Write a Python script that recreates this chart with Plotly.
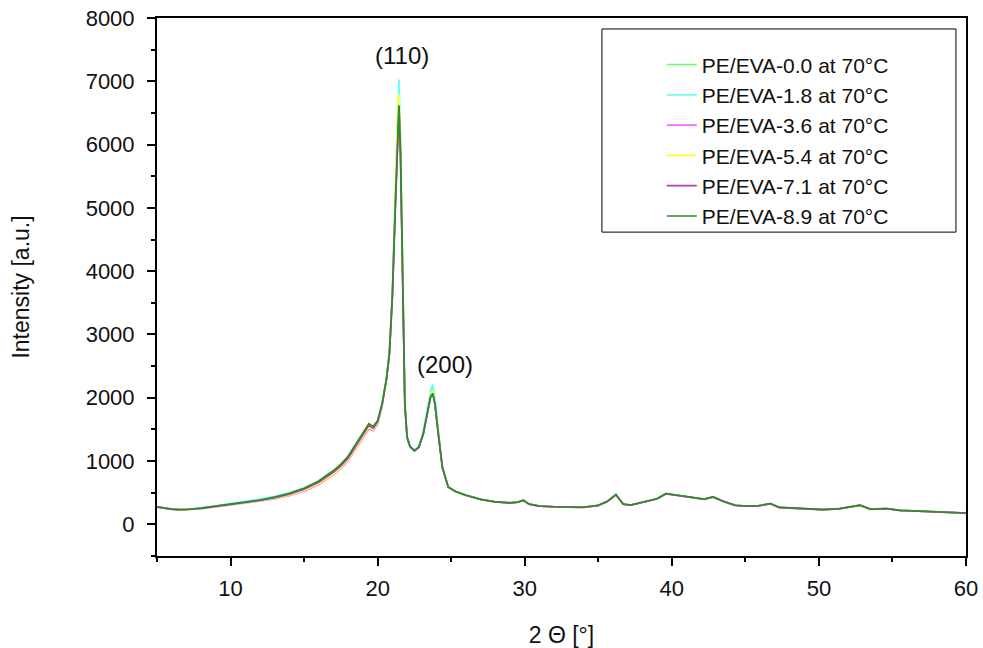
import plotly.graph_objects as go

two_theta = [5.0, 5.5, 6.0, 6.5, 7.0, 8.0, 9.0, 10.0, 11.0, 12.0, 13.0, 14.0, 15.0, 16.0, 17.0, 17.5,
             18.0, 18.5, 19.0, 19.4, 19.7, 20.0, 20.3, 20.6, 20.8, 21.0, 21.2, 21.35, 21.45, 21.55,
             21.7, 21.85, 22.0, 22.2, 22.5, 22.8, 23.1, 23.4, 23.6, 23.75, 23.9, 24.1, 24.4, 24.8,
             25.3, 26.0, 27.0, 28.0, 29.0, 29.5, 29.9, 30.3, 31.0, 32.0, 33.0, 34.0, 35.0, 35.6,
             36.2, 36.7, 37.2, 38.0, 39.0, 39.6, 40.3, 40.8, 41.4, 42.2, 42.8, 43.5, 44.3, 45.0,
             45.8, 46.7, 47.3, 48.2, 49.2, 50.3, 51.4, 52.2, 52.8, 53.5, 54.6, 55.5, 56.5, 57.3,
             58.2, 59.0, 60.0]

pe_eva_0_0 = [274, 254, 239, 233, 236, 256, 286, 316, 350, 383, 426, 483, 560, 670, 830, 930, 1055, 1230,
              1420, 1560, 1520, 1620, 1890, 2300, 2720, 3650, 5100, 6350, 6720, 6000, 4150, 1920, 1390,
              1235, 1170, 1228, 1450, 1840, 2080, 2140, 1960, 1510, 910, 592, 521, 461, 396, 356, 341,
              351, 382, 321, 290, 279, 273, 270, 301, 361, 472, 321, 305, 346, 406, 487, 461, 441, 424,
              399, 434, 365, 303, 290, 290, 329, 269, 258, 249, 234, 249, 276, 303, 241, 250, 222, 212,
              206, 195, 188, 179]
pe_eva_1_8 = [272, 254, 240, 234, 238, 260, 292, 325, 362, 398, 442, 500, 578, 690, 850, 948, 1075, 1250,
              1440, 1575, 1540, 1640, 1910, 2320, 2750, 3700, 5200, 6500, 7030, 6200, 4250, 1950, 1400,
              1240, 1175, 1235, 1460, 1860, 2120, 2210, 2000, 1540, 920, 595, 522, 462, 397, 357, 342,
              352, 384, 322, 291, 279, 274, 271, 302, 362, 475, 322, 306, 347, 408, 490, 463, 442, 425,
              400, 436, 366, 304, 291, 291, 331, 270, 259, 250, 235, 250, 277, 305, 242, 251, 223, 213,
              207, 196, 189, 180]
pe_eva_3_6 = [273, 253, 238, 231, 233, 250, 278, 305, 335, 365, 402, 452, 525, 630, 785, 885, 1005, 1180,
              1370, 1510, 1480, 1580, 1860, 2290, 2700, 3620, 5050, 6250, 6650, 5950, 4080, 1880, 1370,
              1222, 1160, 1215, 1420, 1790, 2010, 2080, 1890, 1470, 895, 587, 518, 457, 393, 353, 338,
              347, 377, 318, 287, 275, 270, 267, 297, 357, 466, 318, 302, 342, 402, 480, 456, 437, 419,
              394, 429, 360, 298, 286, 287, 324, 264, 254, 245, 229, 244, 272, 298, 236, 246, 219, 209,
              203, 192, 185, 176]
pe_eva_5_4 = [274, 254, 239, 232, 234, 252, 281, 308, 340, 370, 408, 460, 535, 640, 795, 895, 1020, 1195,
              1390, 1530, 1495, 1600, 1880, 2310, 2730, 3680, 5150, 6400, 6800, 6050, 4150, 1900, 1380,
              1228, 1165, 1222, 1440, 1830, 2060, 2110, 1930, 1500, 905, 590, 520, 459, 395, 355, 340,
              349, 380, 320, 289, 277, 272, 269, 299, 359, 468, 320, 304, 344, 404, 483, 458, 439, 421,
              397, 431, 362, 300, 288, 289, 326, 266, 256, 247, 231, 246, 274, 300, 238, 248, 220, 210,
              204, 194, 186, 177]
pe_eva_7_1 = [275, 255, 240, 233, 235, 254, 284, 313, 346, 380, 420, 478, 555, 665, 825, 925, 1050, 1225,
              1420, 1560, 1520, 1620, 1890, 2290, 2690, 3590, 5000, 6200, 6600, 5880, 4080, 1890, 1375,
              1228, 1162, 1218, 1425, 1795, 2010, 2060, 1890, 1475, 898, 588, 519, 459, 394, 354, 339,
              349, 379, 319, 289, 277, 272, 269, 299, 359, 468, 319, 304, 344, 404, 484, 459, 439, 422,
              397, 432, 363, 301, 289, 289, 327, 267, 257, 248, 232, 247, 274, 301, 239, 249, 221, 211,
              205, 194, 187, 178]
pe_eva_8_9 = [275, 255, 240, 233, 235, 255, 285, 315, 350, 385, 430, 490, 570, 685, 850, 950, 1080, 1260,
              1450, 1590, 1545, 1640, 1900, 2300, 2700, 3600, 5000, 6200, 6620, 5900, 4100, 1900, 1380,
              1230, 1165, 1220, 1430, 1800, 2020, 2070, 1900, 1480, 900, 590, 520, 460, 395, 355, 340,
              350, 380, 320, 290, 278, 273, 270, 300, 360, 470, 320, 305, 345, 405, 485, 460, 440, 423,
              398, 433, 364, 302, 290, 290, 328, 268, 258, 249, 233, 248, 275, 302, 240, 250, 222, 212,
              206, 195, 188, 179]

series_names = ["PE/EVA-0.0 at 70°C", "PE/EVA-1.8 at 70°C", "PE/EVA-3.6 at 70°C",
                "PE/EVA-5.4 at 70°C", "PE/EVA-7.1 at 70°C", "PE/EVA-8.9 at 70°C"]
series_values = [pe_eva_0_0, pe_eva_1_8, pe_eva_3_6, pe_eva_5_4, pe_eva_7_1, pe_eva_8_9]
series_colors = ["#66ff66", "#66ffff", "#ff66ff", "#ffff33", "#b040b0", "#2e8b2e"]

peak_labels = ["(110)", "(200)"]
peak_label_x = [21.68, 24.56]
peak_label_y = [7400, 2520]

FONT = "Liberation Sans, Arial, sans-serif"
TXT = "#111111"

fig = go.Figure()
for name, vals, col in zip(series_names, series_values, series_colors):
    fig.add_trace(go.Scatter(x=two_theta, y=vals, mode="lines", name=name,
                             line=dict(color=col, width=1.7)))

for t, lx, ly in zip(peak_labels, peak_label_x, peak_label_y):
    fig.add_annotation(x=lx, y=ly, text=t, showarrow=False,
                       font=dict(family=FONT, size=24, color=TXT))

axis_common = dict(showline=True, linecolor="black", linewidth=2, mirror=True,
                   ticks="outside", ticklen=8, tickwidth=2, tickcolor="black",
                   showgrid=False, zeroline=False, automargin=False,
                   ticklabeloverflow="allow",
                   tickfont=dict(family=FONT, size=22, color=TXT))

fig.update_xaxes(range=[5, 60], dtick=10, tick0=0, ticklabelstandoff=4,
                 minor=dict(dtick=5, ticks="outside", ticklen=4, tickwidth=2, tickcolor="black"),
                 title=dict(text="2 Θ [°]", font=dict(family=FONT, size=23, color=TXT), standoff=26),
                 **axis_common)
fig.update_yaxes(range=[-500, 8000], dtick=1000, tick0=0, ticklabelstandoff=8,
                 minor=dict(dtick=500, ticks="outside", ticklen=4, tickwidth=2, tickcolor="black"),
                 title=dict(text="Intensity [a.u.]", font=dict(family=FONT, size=23, color=TXT), standoff=50),
                 **axis_common)

# legend frame (px 602..956 x 29..232 within plot area 157..966 x 18..556)
fig.add_shape(type="rect", xref="paper", yref="paper",
              x0=0.550, x1=0.9876, y0=0.602, y1=0.9796,
              line=dict(color="black", width=1), fillcolor="white", layer="above")

fig.update_layout(
    width=983, height=648,
    margin=dict(l=157, r=17, t=18, b=92),
    paper_bgcolor="white", plot_bgcolor="white",
    legend=dict(x=0.556, y=0.951, xanchor="left", yanchor="top",
                bgcolor="rgba(0,0,0,0)", borderwidth=0,
                font=dict(family=FONT, size=21, color=TXT),
                indentation=55),
    font=dict(family=FONT, color=TXT),
)

fig.write_html("out.html", config={"displayModeBar": False},
               post_script="document.body.style.margin='0';document.body.style.overflow='hidden';")
